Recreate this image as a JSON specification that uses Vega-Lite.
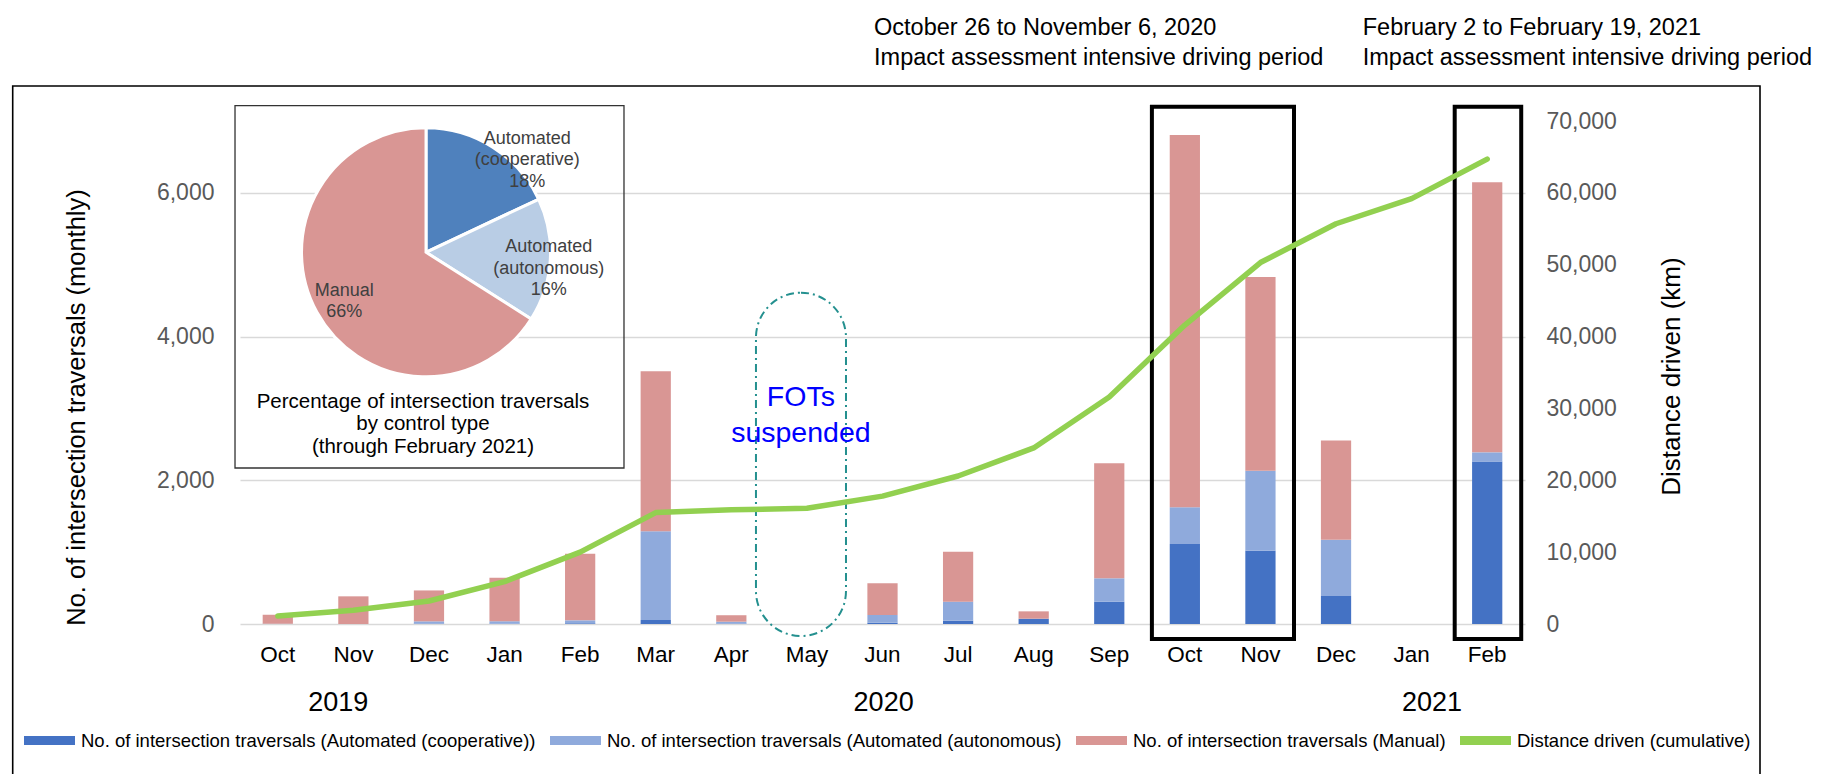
{
  "$schema": "https://vega.github.io/schema/vega-lite/v6.json",
  "width": 1285,
  "height": 503,
  "autosize": {"type": "none"},
  "padding": {"left": 240, "top": 121, "right": 298, "bottom": 150},
  "background": "white",
  "config": {
    "font": "Liberation Sans",
    "view": {"stroke": null},
    "axis": {"titleFontWeight": "normal"}
  },
  "datasets": {
    "traversals": [
      {"period": "2019-10", "series": "No. of intersection traversals (Automated (cooperative))", "rank": 1, "count": 0},
      {"period": "2019-10", "series": "No. of intersection traversals (Automated (autonomous)", "rank": 2, "count": 5},
      {"period": "2019-10", "series": "No. of intersection traversals (Manual)", "rank": 3, "count": 125},
      {"period": "2019-11", "series": "No. of intersection traversals (Automated (cooperative))", "rank": 1, "count": 0},
      {"period": "2019-11", "series": "No. of intersection traversals (Automated (autonomous)", "rank": 2, "count": 0},
      {"period": "2019-11", "series": "No. of intersection traversals (Manual)", "rank": 3, "count": 385},
      {"period": "2019-12", "series": "No. of intersection traversals (Automated (cooperative))", "rank": 1, "count": 5},
      {"period": "2019-12", "series": "No. of intersection traversals (Automated (autonomous)", "rank": 2, "count": 32},
      {"period": "2019-12", "series": "No. of intersection traversals (Manual)", "rank": 3, "count": 430},
      {"period": "2020-01", "series": "No. of intersection traversals (Automated (cooperative))", "rank": 1, "count": 5},
      {"period": "2020-01", "series": "No. of intersection traversals (Automated (autonomous)", "rank": 2, "count": 32},
      {"period": "2020-01", "series": "No. of intersection traversals (Manual)", "rank": 3, "count": 605},
      {"period": "2020-02", "series": "No. of intersection traversals (Automated (cooperative))", "rank": 1, "count": 10},
      {"period": "2020-02", "series": "No. of intersection traversals (Automated (autonomous)", "rank": 2, "count": 41},
      {"period": "2020-02", "series": "No. of intersection traversals (Manual)", "rank": 3, "count": 925},
      {"period": "2020-03", "series": "No. of intersection traversals (Automated (cooperative))", "rank": 1, "count": 56},
      {"period": "2020-03", "series": "No. of intersection traversals (Automated (autonomous)", "rank": 2, "count": 1235},
      {"period": "2020-03", "series": "No. of intersection traversals (Manual)", "rank": 3, "count": 2225},
      {"period": "2020-04", "series": "No. of intersection traversals (Automated (cooperative))", "rank": 1, "count": 5},
      {"period": "2020-04", "series": "No. of intersection traversals (Automated (autonomous)", "rank": 2, "count": 27},
      {"period": "2020-04", "series": "No. of intersection traversals (Manual)", "rank": 3, "count": 90},
      {"period": "2020-05", "series": "No. of intersection traversals (Automated (cooperative))", "rank": 1, "count": 0},
      {"period": "2020-05", "series": "No. of intersection traversals (Automated (autonomous)", "rank": 2, "count": 0},
      {"period": "2020-05", "series": "No. of intersection traversals (Manual)", "rank": 3, "count": 0},
      {"period": "2020-06", "series": "No. of intersection traversals (Automated (cooperative))", "rank": 1, "count": 18},
      {"period": "2020-06", "series": "No. of intersection traversals (Automated (autonomous)", "rank": 2, "count": 107},
      {"period": "2020-06", "series": "No. of intersection traversals (Manual)", "rank": 3, "count": 442},
      {"period": "2020-07", "series": "No. of intersection traversals (Automated (cooperative))", "rank": 1, "count": 46},
      {"period": "2020-07", "series": "No. of intersection traversals (Automated (autonomous)", "rank": 2, "count": 265},
      {"period": "2020-07", "series": "No. of intersection traversals (Manual)", "rank": 3, "count": 696},
      {"period": "2020-08", "series": "No. of intersection traversals (Automated (cooperative))", "rank": 1, "count": 74},
      {"period": "2020-08", "series": "No. of intersection traversals (Automated (autonomous)", "rank": 2, "count": 0},
      {"period": "2020-08", "series": "No. of intersection traversals (Manual)", "rank": 3, "count": 102},
      {"period": "2020-09", "series": "No. of intersection traversals (Automated (cooperative))", "rank": 1, "count": 311},
      {"period": "2020-09", "series": "No. of intersection traversals (Automated (autonomous)", "rank": 2, "count": 325},
      {"period": "2020-09", "series": "No. of intersection traversals (Manual)", "rank": 3, "count": 1602},
      {"period": "2020-10", "series": "No. of intersection traversals (Automated (cooperative))", "rank": 1, "count": 1114},
      {"period": "2020-10", "series": "No. of intersection traversals (Automated (autonomous)", "rank": 2, "count": 511},
      {"period": "2020-10", "series": "No. of intersection traversals (Manual)", "rank": 3, "count": 5181},
      {"period": "2020-11", "series": "No. of intersection traversals (Automated (cooperative))", "rank": 1, "count": 1021},
      {"period": "2020-11", "series": "No. of intersection traversals (Automated (autonomous)", "rank": 2, "count": 1110},
      {"period": "2020-11", "series": "No. of intersection traversals (Manual)", "rank": 3, "count": 2697},
      {"period": "2020-12", "series": "No. of intersection traversals (Automated (cooperative))", "rank": 1, "count": 390},
      {"period": "2020-12", "series": "No. of intersection traversals (Automated (autonomous)", "rank": 2, "count": 784},
      {"period": "2020-12", "series": "No. of intersection traversals (Manual)", "rank": 3, "count": 1379},
      {"period": "2021-01", "series": "No. of intersection traversals (Automated (cooperative))", "rank": 1, "count": 0},
      {"period": "2021-01", "series": "No. of intersection traversals (Automated (autonomous)", "rank": 2, "count": 0},
      {"period": "2021-01", "series": "No. of intersection traversals (Manual)", "rank": 3, "count": 0},
      {"period": "2021-02", "series": "No. of intersection traversals (Automated (cooperative))", "rank": 1, "count": 2261},
      {"period": "2021-02", "series": "No. of intersection traversals (Automated (autonomous)", "rank": 2, "count": 128},
      {"period": "2021-02", "series": "No. of intersection traversals (Manual)", "rank": 3, "count": 3758}
    ],
    "distance": [
      {"period": "2019-10", "series": "Distance driven (cumulative)", "distance": 1100},
      {"period": "2019-11", "series": "Distance driven (cumulative)", "distance": 1900},
      {"period": "2019-12", "series": "Distance driven (cumulative)", "distance": 3200},
      {"period": "2020-01", "series": "Distance driven (cumulative)", "distance": 5900},
      {"period": "2020-02", "series": "Distance driven (cumulative)", "distance": 10000},
      {"period": "2020-03", "series": "Distance driven (cumulative)", "distance": 15500},
      {"period": "2020-04", "series": "Distance driven (cumulative)", "distance": 15900},
      {"period": "2020-05", "series": "Distance driven (cumulative)", "distance": 16100},
      {"period": "2020-06", "series": "Distance driven (cumulative)", "distance": 17800},
      {"period": "2020-07", "series": "Distance driven (cumulative)", "distance": 20600},
      {"period": "2020-08", "series": "Distance driven (cumulative)", "distance": 24500},
      {"period": "2020-09", "series": "Distance driven (cumulative)", "distance": 31600},
      {"period": "2020-10", "series": "Distance driven (cumulative)", "distance": 41600},
      {"period": "2020-11", "series": "Distance driven (cumulative)", "distance": 50300},
      {"period": "2020-12", "series": "Distance driven (cumulative)", "distance": 55700},
      {"period": "2021-01", "series": "Distance driven (cumulative)", "distance": 59200},
      {"period": "2021-02", "series": "Distance driven (cumulative)", "distance": 64700}
    ],
    "shares": [
      {"slice": "Automated (cooperative)", "rank": 1, "share": 18, "label": "Automated\n(cooperative)\n18%"},
      {"slice": "Automated (autonomous)", "rank": 2, "share": 16, "label": "Automated\n(autonomous)\n16%"},
      {"slice": "Manual", "rank": 3, "share": 66, "label": "Manual\n66%"}
    ],
    "periods": [
      {"label": "October 26 to November 6, 2020\nImpact assessment intensive driving period", "start": 12.064, "end": 13.944, "labelAt": 8.388},
      {"label": "February 2 to February 19, 2021\nImpact assessment intensive driving period", "start": 16.07, "end": 16.95, "labelAt": 14.853}
    ],
    "notes": [
      {"note": "FOTs\nsuspended", "from": 6.826, "to": 8.017, "at": 7.42}
    ],
    "inset": [
      {"title": "Percentage of intersection traversals\nby control type\n(through February 2021)"}
    ],
    "years": [
      {"year": "2019", "at": 1.3},
      {"year": "2020", "at": 8.515},
      {"year": "2021", "at": 15.77}
    ]
  },
  "layer": [
    {
      "layer": [
        {
          "data": {"values": [{"item": "chart area"}]},
          "mark": {"type": "rect", "filled": false, "stroke": "#000000", "strokeWidth": 1.6},
          "encoding": {
            "x": {"datum": -3.007, "type": "quantitative", "scale": {"domain": [0, 17], "nice": false, "zero": false}, "axis": null},
            "x2": {"datum": 20.109},
            "y": {"datum": 7487, "type": "quantitative", "scale": {"domain": [0, 7000], "nice": false, "zero": false}, "axis": null},
            "y2": {"datum": -2300}
          }
        },
        {
          "data": {"values": [{"item": "inset"}]},
          "mark": {"type": "rect", "filled": false, "stroke": "#333333", "strokeWidth": 1.3},
          "encoding": {
            "x": {"datum": -0.066, "type": "quantitative", "scale": {"domain": [0, 17], "nice": false, "zero": false}, "axis": null},
            "x2": {"datum": 5.08},
            "y": {"datum": 7213, "type": "quantitative", "scale": {"domain": [0, 7000], "nice": false, "zero": false}, "axis": null},
            "y2": {"datum": 2171}
          }
        },
        {
          "data": {"name": "shares"},
          "mark": {"type": "arc", "outerRadius": 124.5, "stroke": "white", "strokeWidth": 3},
          "encoding": {
            "x": {"datum": 2.461, "type": "quantitative", "scale": {"domain": [0, 17], "nice": false, "zero": false}, "axis": null},
            "y": {"datum": 5173, "type": "quantitative", "scale": {"domain": [0, 7000], "nice": false, "zero": false}, "axis": null},
            "theta": {"field": "share", "type": "quantitative", "stack": true},
            "order": {"field": "rank", "type": "quantitative"},
            "color": {"field": "slice", "type": "nominal", "scale": {"domain": ["Automated (cooperative)", "Automated (autonomous)", "Manual"], "range": ["#4F81BD", "#B9CDE5", "#D99694"]}, "legend": null}
          }
        },
        {
          "data": {"name": "shares"},
          "mark": {"type": "text", "radius": 120, "dx": 37, "dy": -12, "fontSize": 18, "lineHeight": 21.5, "lineBreak": "\n", "fill": "#404040", "align": "center", "baseline": "middle"},
          "encoding": {
            "x": {"datum": 2.461, "type": "quantitative", "scale": {"domain": [0, 17], "nice": false, "zero": false}, "axis": null},
            "y": {"datum": 5173, "type": "quantitative", "scale": {"domain": [0, 7000], "nice": false, "zero": false}, "axis": null},
            "theta": {"field": "share", "type": "quantitative", "stack": true},
            "order": {"field": "rank", "type": "quantitative"},
            "text": {"condition": {"test": "datum.slice === 'Automated (cooperative)'", "field": "label"}, "value": ""}
          }
        },
        {
          "data": {"name": "shares"},
          "mark": {"type": "text", "radius": 123, "dy": -13, "fontSize": 18, "lineHeight": 21.5, "lineBreak": "\n", "fill": "#404040", "align": "center", "baseline": "middle"},
          "encoding": {
            "x": {"datum": 2.461, "type": "quantitative", "scale": {"domain": [0, 17], "nice": false, "zero": false}, "axis": null},
            "y": {"datum": 5173, "type": "quantitative", "scale": {"domain": [0, 7000], "nice": false, "zero": false}, "axis": null},
            "theta": {"field": "share", "type": "quantitative", "stack": true},
            "order": {"field": "rank", "type": "quantitative"},
            "text": {"condition": {"test": "datum.slice === 'Automated (autonomous)'", "field": "label"}, "value": ""}
          }
        },
        {
          "data": {"name": "shares"},
          "mark": {"type": "text", "radius": 90, "dx": -3, "dy": -5, "fontSize": 18, "lineHeight": 21.5, "lineBreak": "\n", "fill": "#404040", "align": "center", "baseline": "middle"},
          "encoding": {
            "x": {"datum": 2.461, "type": "quantitative", "scale": {"domain": [0, 17], "nice": false, "zero": false}, "axis": null},
            "y": {"datum": 5173, "type": "quantitative", "scale": {"domain": [0, 7000], "nice": false, "zero": false}, "axis": null},
            "theta": {"field": "share", "type": "quantitative", "stack": true},
            "order": {"field": "rank", "type": "quantitative"},
            "text": {"condition": {"test": "datum.slice === 'Manual'", "field": "label"}, "value": ""}
          }
        },
        {
          "data": {"name": "inset"},
          "mark": {"type": "text", "fontSize": 20.5, "lineHeight": 22.5, "lineBreak": "\n", "fill": "#000000", "align": "center", "baseline": "middle"},
          "encoding": {
            "x": {"datum": 2.421, "type": "quantitative", "scale": {"domain": [0, 17], "nice": false, "zero": false}, "axis": null},
            "y": {"datum": 3094, "type": "quantitative", "scale": {"domain": [0, 7000], "nice": false, "zero": false}, "axis": null},
            "text": {"field": "title"}
          }
        },
        {
          "data": {"name": "notes"},
          "mark": {"type": "rect", "filled": false, "stroke": "#24908F", "strokeWidth": 2, "strokeDash": [8, 4, 2, 4], "cornerRadius": 45},
          "encoding": {
            "x": {"field": "from", "type": "quantitative", "scale": {"domain": [0, 17], "nice": false, "zero": false}, "axis": null},
            "x2": {"field": "to"},
            "y": {"datum": 4611, "type": "quantitative", "scale": {"domain": [0, 7000], "nice": false, "zero": false}, "axis": null},
            "y2": {"datum": -167}
          }
        },
        {
          "data": {"name": "notes"},
          "mark": {"type": "text", "fontSize": 28.5, "lineHeight": 36, "lineBreak": "\n", "fill": "#0000FF", "align": "center", "baseline": "middle"},
          "encoding": {
            "x": {"field": "at", "type": "quantitative", "scale": {"domain": [0, 17], "nice": false, "zero": false}, "axis": null},
            "y": {"datum": 3159, "type": "quantitative", "scale": {"domain": [0, 7000], "nice": false, "zero": false}, "axis": null},
            "text": {"field": "note"}
          }
        },
        {
          "data": {"name": "periods"},
          "mark": {"type": "rect", "filled": false, "stroke": "#000000", "strokeWidth": 4},
          "encoding": {
            "x": {"field": "start", "type": "quantitative", "scale": {"domain": [0, 17], "nice": false, "zero": false}, "axis": null},
            "x2": {"field": "end"},
            "y": {"datum": 7200, "type": "quantitative", "scale": {"domain": [0, 7000], "nice": false, "zero": false}, "axis": null},
            "y2": {"datum": -209}
          }
        },
        {
          "data": {"name": "periods"},
          "mark": {"type": "text", "fontSize": 23.5, "lineHeight": 30, "lineBreak": "\n", "fill": "#000000", "align": "left", "baseline": "middle"},
          "encoding": {
            "x": {"field": "labelAt", "type": "quantitative", "scale": {"domain": [0, 17], "nice": false, "zero": false}, "axis": null},
            "y": {"datum": 8300, "type": "quantitative", "scale": {"domain": [0, 7000], "nice": false, "zero": false}, "axis": null},
            "text": {"field": "label"}
          }
        },
        {
          "data": {"name": "years"},
          "mark": {"type": "text", "fontSize": 27, "fill": "#000000", "align": "center", "baseline": "middle"},
          "encoding": {
            "x": {"field": "at", "type": "quantitative", "scale": {"domain": [0, 17], "nice": false, "zero": false}, "axis": null},
            "y": {"datum": -1100, "type": "quantitative", "scale": {"domain": [0, 7000], "nice": false, "zero": false}, "axis": null},
            "text": {"field": "year"}
          }
        }
      ]
    },
    {
      "layer": [
        {
          "data": {"name": "traversals"},
          "mark": {"type": "bar"},
          "encoding": {
            "x": {
              "field": "period", "type": "ordinal",
              "scale": {"paddingInner": 0.6, "paddingOuter": 0.3},
              "axis": {
                "title": null,
                "labelExpr": "['Jan','Feb','Mar','Apr','May','Jun','Jul','Aug','Sep','Oct','Nov','Dec'][toNumber(slice(datum.value, 5)) - 1]",
                "labelAngle": 0, "labelFontSize": 22.5, "labelColor": "#000000",
                "ticks": false, "tickSize": 0, "domain": false, "labelPadding": 19, "grid": false
              }
            },
            "y": {
              "field": "count", "type": "quantitative", "stack": "zero",
              "scale": {"domain": [0, 7000], "nice": false},
              "axis": {
                "title": "No. of intersection traversals (monthly)",
                "values": [0, 2000, 4000, 6000], "format": ",.0f",
                "labelFontSize": 23, "labelColor": "#595959",
                "ticks": false, "tickSize": 0, "domain": false, "labelPadding": 26,
                "grid": true, "gridColor": "#D9D9D9", "gridWidth": 1.5,
                "titleFontSize": 25.5, "titleColor": "#000000", "titleFontWeight": "normal",
                "titleX": -164, "titleY": 286, "titleAngle": 270, "titleAlign": "center", "titleBaseline": "middle"
              }
            },
            "color": {
              "field": "series", "type": "nominal",
              "scale": {
                "domain": [
                  "No. of intersection traversals (Automated (cooperative))",
                  "No. of intersection traversals (Automated (autonomous)",
                  "No. of intersection traversals (Manual)",
                  "Distance driven (cumulative)"
                ],
                "range": ["#4472C4", "#8FAADC", "#D99694", "#92D050"]
              },
              "legend": {
                "title": null, "orient": "none", "legendX": -216, "legendY": 594,
                "direction": "horizontal", "columns": 4,
                "symbolType": "M-1,-0.18H1V0.18H-1Z", "symbolSize": 2601, "symbolStrokeWidth": 0,
                "labelFontSize": 18.5, "labelColor": "#000000", "labelLimit": 700,
                "labelOffset": 6, "columnPadding": 14, "padding": 0, "rowPadding": 0
              }
            },
            "order": {"field": "rank", "type": "quantitative"}
          }
        },
        {
          "data": {"name": "distance"},
          "mark": {"type": "line", "strokeWidth": 5.5, "strokeCap": "round", "strokeJoin": "round"},
          "encoding": {
            "x": {"field": "period", "type": "ordinal"},
            "y": {
              "field": "distance", "type": "quantitative",
              "scale": {"domain": [0, 70000], "nice": false},
              "axis": {
                "orient": "right",
                "title": "Distance driven (km)",
                "values": [0, 10000, 20000, 30000, 40000, 50000, 60000, 70000], "format": ",.0f",
                "labelFontSize": 23, "labelColor": "#595959",
                "ticks": false, "tickSize": 0, "domain": false, "labelPadding": 21, "grid": false,
                "titleFontSize": 26, "titleColor": "#000000", "titleFontWeight": "normal",
                "titleX": 146, "titleY": 255, "titleAngle": 270, "titleAlign": "center", "titleBaseline": "middle"
              }
            },
            "color": {"field": "series", "type": "nominal", "legend": null}
          }
        }
      ],
      "resolve": {"scale": {"y": "independent"}}
    }
  ],
  "resolve": {"scale": {"x": "independent", "y": "independent", "color": "independent", "theta": "independent"}}
}
